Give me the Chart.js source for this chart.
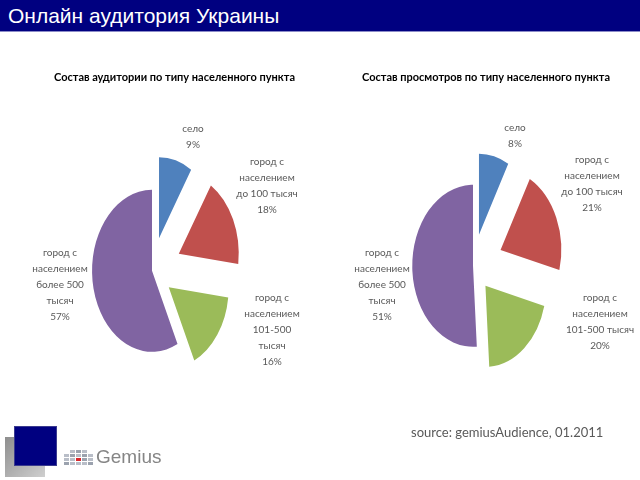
<!DOCTYPE html>
<html>
<head>
<meta charset="utf-8">
<script src="https://cdn.jsdelivr.net/npm/chart.js@4.4.1/dist/chart.umd.min.js"></script>
<style>
  html, body { margin: 0; padding: 0; background: #fff; }
  body { width: 640px; height: 480px; position: relative; overflow: hidden; font-family: Lato, sans-serif; }
  .header {
    position: absolute; left: 0; top: 0; width: 640px; height: 32px; box-sizing: border-box;
    background: #000080; border-bottom: 1px solid #8c8cc8;
    color: #fff; font: 21px "Liberation Sans", Arial, sans-serif; line-height: 31px; padding-left: 8px;
  }
  .pie { position: absolute; top: 40px; }
  #audience { left: 0; }
  #views { left: 320px; }
  .source { position: absolute; left: 411px; top: 424px; font-size: 13px; color: #595959; }
  .logo-back { position: absolute; left: 5px; top: 437px; width: 40px; height: 40px; background: linear-gradient(135deg, #8e8e8e, #cfcfcf); }
  .logo-front { position: absolute; left: 15px; top: 427px; width: 41px; height: 38px; background: #000080; box-shadow: 0 0 0 1px #3b3b8f; }
  .gem-icon { position: absolute; left: 64px; top: 450px; display: grid; grid-template-columns: repeat(5, 5px); gap: 1px; }
  .gem-icon span { width: 5px; height: 3px; background: #b9bec8; }
  .gem-icon span.e { background: transparent; }
  .gem-icon span.d { background: #9ba2ae; }
  .gem-icon span.r { background: #d9262c; }
  .gem-text { position: absolute; left: 96px; top: 446px; font: 19px "Liberation Sans", Arial, sans-serif; color: #858585; }
</style>
</head>
<body>
<div class="header">Онлайн аудитория Украины</div>

<canvas id="audience" class="pie" width="320" height="420"></canvas>
<canvas id="views" class="pie" width="320" height="420"></canvas>

<div class="source">source: gemiusAudience, 01.2011</div>
<div class="logo-back"></div>
<div class="logo-front"></div>
<div class="gem-icon">
  <span class="e"></span><span></span><span class="d"></span><span></span><span class="e"></span>
  <span></span><span class="d"></span><span></span><span class="d"></span><span></span>
  <span></span><span></span><span class="r"></span><span class="d"></span><span></span>
  <span class="d"></span><span></span><span></span><span></span><span class="d"></span>
</div>
<div class="gem-text">Gemius</div>

<script>
const categories = [
  'село',
  'город с населением до 100 тысяч',
  'город с населением 101-500 тысяч',
  'город с населением более 500 тысяч'
];
const audienceShare = [9, 18, 16, 57];
const viewsShare = [8, 21, 20, 51];
const sliceColors = ['#4F81BD', '#C0504D', '#9BBB59', '#8064A2'];

// how the category names wrap in each chart
const audienceLabelLines = [
  ['село'],
  ['город с', 'населением', 'до 100 тысяч'],
  ['город с', 'населением', '101-500', 'тысяч'],
  ['город с', 'населением', 'более 500', 'тысяч']
];
const viewsLabelLines = [
  ['село'],
  ['город с', 'населением', 'до 100 тысяч'],
  ['город с', 'населением', '101-500 тысяч'],
  ['город с', 'населением', 'более 500', 'тысяч']
];

Chart.defaults.font.family = 'Lato';

// squeezes the pie into an ellipse, pulls slices out and writes the labels
function pieDecor(cfg) {
  return {
    id: 'pieDecor',
    beforeDatasetDraw(chart, args) {
      const ctx = chart.ctx;
      const arcs = args.meta.data;
      const cx = arcs[0].x, cy = arcs[0].y;
      ctx.save();
      ctx.translate(cx, cy);
      ctx.scale(cfg.squeeze, 1);
      ctx.translate(-cx, -cy);
      arcs.forEach((arc, i) => {
        const d = cfg.explode[i];
        const mid = (arc.startAngle + arc.endAngle) / 2;
        ctx.save();
        ctx.translate(Math.cos(mid) * d, Math.sin(mid) * d);
        arc.draw(ctx);
        ctx.restore();
      });
      ctx.restore();
      return false;
    },
    afterDraw(chart) {
      const ctx = chart.ctx;
      const arcs = chart.getDatasetMeta(0).data;
      const cx = arcs[0].x, cy = arcs[0].y;
      const values = chart.data.datasets[0].data;
      ctx.save();
      ctx.font = '10px Lato';
      ctx.fillStyle = '#595959';
      ctx.textAlign = 'center';
      ctx.textBaseline = 'middle';
      cfg.lines.forEach((lines, i) => {
        const all = lines.concat(values[i] + '%');
        const [dx, dy] = cfg.anchors[i];
        const top = cy + dy - (all.length - 1) * 16 / 2;
        all.forEach((t, k) => ctx.fillText(t, cx + dx, top + k * 16));
      });
      ctx.restore();
    }
  };
}

function makePie(id, title, values, decor, padding) {
  new Chart(document.getElementById(id), {
    type: 'pie',
    data: {
      labels: categories,
      datasets: [{ data: values, backgroundColor: sliceColors, borderWidth: 0 }]
    },
    options: {
      responsive: false,
      animation: false,
      radius: 81,
      layout: { padding },
      plugins: {
        legend: { display: false },
        tooltip: { enabled: false },
        title: {
          display: true, text: title, align: 'end', color: '#000',
          font: { size: 11, weight: 'bold' },
          padding: { top: 31, bottom: 11 }
        }
      }
    },
    plugins: [pieDecor(decor)]
  });
}

makePie('audience', 'Состав аудитории по типу населенного пункта', audienceShare, {
  squeeze: 0.74,
  explode: [34, 40, 28, 0],
  lines: audienceLabelLines,
  anchors: [[41, -134], [115, -85], [120, 59], [-92, 14]]
}, { left: 9, right: 25, top: 0, bottom: 13.6 });

makePie('views', 'Состав просмотров по типу населенного пункта', viewsShare, {
  squeeze: 0.75,
  explode: [32, 40, 26, 0],
  lines: viewsLabelLines,
  anchors: [[42, -130], [119, -82], [127, 56], [-91, 19]]
}, { left: 16, right: 30, top: 0, bottom: 23.6 });
</script>
</body>
</html>
